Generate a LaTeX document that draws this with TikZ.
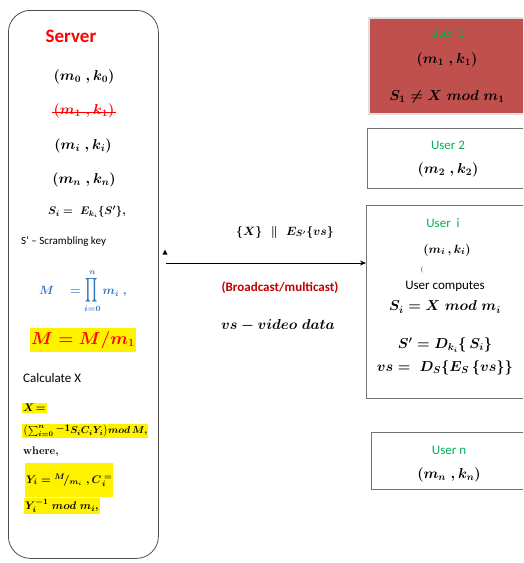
\documentclass[tikz,border=0pt]{standalone}
\usepackage{amsmath}
\usepackage{fontspec}
\newfontfamily\calibri{Carlito}
\usetikzlibrary{arrows.meta}
\definecolor{serverred}{RGB}{255,0,0}
\definecolor{usergreen}{RGB}{0,176,80}
\definecolor{castred}{RGB}{192,0,0}
\definecolor{prodblue}{RGB}{46,116,190}
\definecolor{revoked}{RGB}{192,80,77}
\begin{document}
\begin{tikzpicture}[x=1pt, y=-1pt,
        formula/.style={font=\fontsize{13}{15}\selectfont\boldmath, inner sep=1pt},
        bigformula/.style={font=\fontsize{14}{16}\selectfont\boldmath, inner sep=1pt},
        smallformula/.style={font=\fontsize{11}{13}\selectfont\boldmath, inner sep=1pt},
        sans/.style={font=\fontsize{13}{15}\selectfont\calibri, inner sep=1pt},
        marked/.style={fill=yellow, inner sep=1pt},
        userbox/.style={draw=black!55, line width=0.8pt, minimum width=162, anchor=north west}
    ]
        \useasboundingbox (0,0) rectangle (523,563);
        \clip (0,0) rectangle (523,563);

        \node[draw=black!70, line width=0.8pt, rounded corners=22pt, minimum width=150,
            minimum height=548, anchor=north west] (server) at (8,10) {};
        \node[font=\fontsize{19}{21}\selectfont\calibri\bfseries, text=serverred]
            (title) at (71,36) {Server};
        \node[bigformula] (pair0) at (84,77) {$(m_0\;,k_0)$};
        \node[bigformula, text=serverred] (pair1) at (84,111) {$(m_1\;,k_1)$};
        \draw[serverred, line width=0.8pt]
            ([yshift=-1.5pt]pair1.west) -- ([yshift=-1.5pt]pair1.east);
        \node[bigformula] (pairi) at (83,146) {$(m_i\;,k_i)$};
        \node[bigformula] (pairn) at (84,180) {$(m_n\;,k_n)$};
        \node[smallformula] (share) at (87,212) {$S_i =\ E_{k_i}\{S'\},$};
        \node[sans, font=\fontsize{11}{13}\selectfont\calibri, anchor=west]
            (scramble) at (20,242) {S’ – Scrambling key};
        \node[formula, font=\fontsize{12}{14}\selectfont\boldmath, text=prodblue]
            (modulus) at (83,291)
            {$M\quad = \mathop{\scalebox{0.8}[1.4]{$\displaystyle\prod$}}\limits_{i=0}^{n} m_i\ ,$};
        \node[marked, font=\fontsize{16}{18}\selectfont\boldmath, text=serverred,
            minimum height=24] (reduced) at (83,340) {$M = M/m_1$};
        \node[sans, anchor=west] (calc) at (22,378) {Calculate X};
        \node[smallformula, marked, anchor=west] (xeq) at (22,408) {$X\!=$};
        \node[smallformula, font=\fontsize{10}{12}\selectfont\boldmath, marked, anchor=west]
            (xsum) at (22,431)
            {$\left(\sum_{i=0}^{n}\raisebox{2pt}{$-1$}S_i C_i Y_i\right)\!mod\,M,$};
        \node[font=\fontsize{11}{13}\selectfont\bfseries, inner sep=1pt, anchor=west]
            (where) at (22,452) {where,};
        \node[smallformula, marked, minimum height=34, minimum width=88, anchor=north west]
            (yterm) at (25,463) {$Y_i = {}^{M}\!/_{m_i}\ , C_{\,i}^{\;=}$};
        \node[smallformula, marked, anchor=west] (yinv) at (24,506)
            {$Y_i^{-1}\ mod\ m_i,$};

        \node[userbox, fill=revoked, draw=black!12, line width=1.6pt, minimum height=96]
            (user1) at (368,17) {};
        \node[sans, text=usergreen] (name1) at (447,33) {User 1};
        \node[bigformula] (pairu1) at (447,60) {$(m_1\;,k_1)$};
        \node[bigformula] (fail1) at (447,97) {$S_1 \neq X\ mod\ m_1$};

        \node[userbox, minimum height=60] (user2) at (367,128) {};
        \node[sans, text=usergreen] (name2) at (448,145) {User 2};
        \node[bigformula] (pairu2) at (448,170) {$(m_2\;,k_2)$};

        \node[userbox, minimum height=193] (useri) at (366,205) {};
        \node[sans, text=usergreen] (namei) at (443,223) {User\ \ i};
        \node[formula] (pairui) at (447,250) {$(m_i\,,k_i)$};
        \node[font=\fontsize{6}{6}\selectfont, inner sep=0pt] (tick) at (422,270) {(};
        \node[sans] (computes) at (445,286) {User computes};
        \node[bigformula] (sharei) at (445,307) {$S_i = X\ mod\ m_i$};
        \node[bigformula] (unwrap) at (445,345) {$S' = D_{k_i}\{\,S_i\}$};
        \node[bigformula] (decrypt) at (445,368) {$vs =\ D_S\{E_S\,\{vs\}\}$};

        \node[userbox, minimum height=57] (usern) at (371,432) {};
        \node[sans, text=usergreen] (namen) at (449,450) {User n};
        \node[bigformula] (pairun) at (449,475) {$(m_n\;,k_n)$};

        \coordinate (castfrom) at (166,263);
        \draw[-{Stealth[length=6pt, width=5pt]}, line width=0.7pt]
            (castfrom) -- (castfrom -| useri.west);
        \fill (162.5,254.5) -- (167.5,254.5) -- (165,249.5) -- cycle;
        \node[formula] (payload) at (285,232) {$\{X\}\ \ \|\ \ E_{S'}\{vs\}$};
        \node[sans, font=\fontsize{13}{15}\selectfont\calibri\bfseries, text=castred]
            (cast) at (280,288) {(Broadcast/multicast)};
        \node[bigformula] (video) at (278,325) {$vs - video\ data$};
    \end{tikzpicture}
\end{document}
